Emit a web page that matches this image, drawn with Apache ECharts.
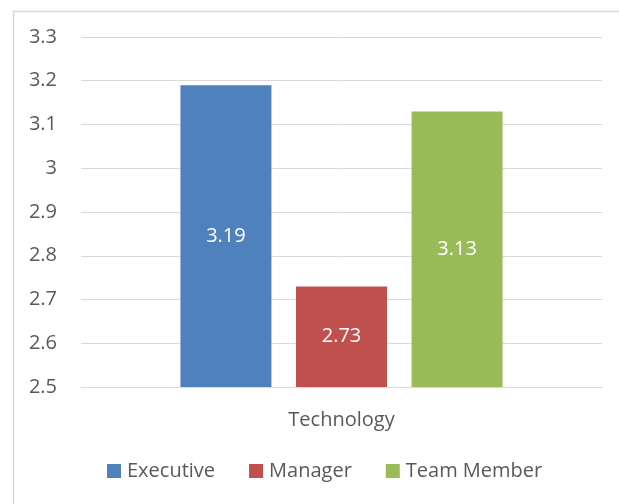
<!DOCTYPE html>
<html>
<head>
<meta charset="utf-8">
<script src="https://cdn.jsdelivr.net/npm/echarts@6/dist/echarts.min.js"></script>
<style>
  html, body { margin: 0; padding: 0; background: #fff; }
  #chart { width: 619px; height: 504px; }
</style>
</head>
<body>
<div id="chart"></div>
<script>
const categories = ['Technology']
const seriesNames = ['Executive', 'Manager', 'Team Member']
const seriesValues = [[3.19], [2.73], [3.13]]
const seriesColors = ['#4f81bd', '#c0504d', '#9bbb59']

const fontFamily = '"Open Sans", sans-serif'
const textColor = '#595959'

const chart = echarts.init(document.getElementById('chart'))

const option = {
  animation: false,
  textStyle: { fontFamily },
  graphic: [{
    type: 'rect',
    left: 11,
    top: 9,
    shape: { width: 640, height: 520 },
    style: { fill: 'none', stroke: '#d9d9d9', lineWidth: 1.5 },
    silent: true
  }],
  grid: {
    left: 81,
    right: 17,
    top: 37,
    bottom: 117
  },
  legend: {
    bottom: 18,
    left: 102,
    itemWidth: 14,
    itemHeight: 14,
    itemGap: 34,
    icon: 'rect',
    textStyle: { color: textColor, fontSize: 20, fontFamily, padding: [0, 0, 0, 1] },
    data: seriesNames
  },
  xAxis: {
    type: 'category',
    data: categories,
    axisTick: { show: false },
    axisLine: { lineStyle: { color: '#d9d9d9', width: 1 } },
    axisLabel: { color: textColor, fontSize: 20, margin: 23, fontFamily }
  },
  yAxis: {
    type: 'value',
    min: 2.5,
    max: 3.3,
    interval: 0.1,
    axisLine: { show: false },
    axisTick: { show: false },
    splitLine: { lineStyle: { color: '#d9d9d9', width: 1 } },
    axisLabel: {
      color: textColor,
      fontSize: 20,
      margin: 24,
      fontFamily,
      formatter: v => String(Math.round(v * 10) / 10)
    }
  },
  series: seriesNames.map((name, i) => ({
    name,
    type: 'bar',
    barWidth: 91,
    barGap: '27%',
    data: seriesValues[i],
    itemStyle: { color: seriesColors[i] },
    label: {
      show: true,
      position: 'inside',
      color: '#fff',
      fontSize: 20,
      fontFamily
    }
  }))
}

chart.setOption(option)
</script>
</body>
</html>
